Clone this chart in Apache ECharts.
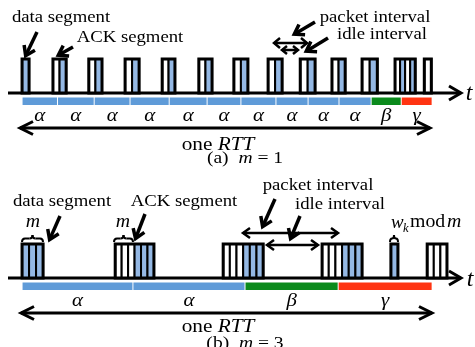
<!DOCTYPE html>
<html><head><meta charset="utf-8">
<script src="https://cdn.jsdelivr.net/npm/echarts@6/dist/echarts.min.js"></script>
<style>html,body{margin:0;padding:0;background:#fff}#c{width:475px;height:347px}</style>
</head><body><div id="c"></div>
<script>
// ---------- data (time as % of one RTT) ----------
const bandLabelsA = ['α','α','α','α','α','α','α','α','α','α','β','γ'];
const bandEdgesA  = [0.5,9.1,18.0,26.7,36.2,45.4,53.6,62.1,69.9,77.4,85.2,92.5,100];
const packetStartA = [0.5,8.0,16.7,25.5,34.5,43.4,51.9,60.2,68.0,75.7,83.0,91.0,98.1];
const packetEndA   = [2.2,11.2,19.9,28.9,37.6,46.6,55.3,63.6,71.6,78.9,86.7,95.9,99.8];
const packetCellsA = ['d','ad','ad','ad','ad','ad','ad','ad','ad','ad','ad','adad','a'];

const bandLabelsB = ['α','α','β','γ'];
const bandEdgesB  = [0.5,27.4,54.6,77.2,100];
const packetStartB = [0.5,23.1,49.3,73.3,90.0,98.8];
const packetEndB   = [5.6,32.5,59.0,83.0,91.7,103.6];
const packetCellsB = ['ddd','aaaddd','aaaddd','aaaddd','d','aaa'];

const annotationTexts = ['data segment','ACK segment','packet interval','idle interval'];
const captionTexts = [['(a)','m','1'],['(b)','m','3']];

// ---------- styles ----------
const SERIF = '"Liberation Serif","DejaVu Serif",serif';
const DATA_FILL = '#94b8e4';
const BAND_COLORS = {'α':'#5f9bd8','β':'#0b8a1c','γ':'#ff3412'};

function packetRenderer(cells){
  return function(params, api){
    const p0 = api.coord([api.value(0), 0]);
    const p1 = api.coord([api.value(1), 1]);
    const pat = cells[params.dataIndex];
    const n = pat.length, w = (p1[0]-p0[0])/n, top = p1[1], bot = p0[1];
    const ch = [];
    for (let i=0;i<n;i++) ch.push({type:'rect',shape:{x:p0[0]+i*w,y:top,width:w,height:bot-top},
      style:{fill:pat[i]==='d'?DATA_FILL:'#fff',stroke:'#000',lineWidth:2}});
    ch.push({type:'rect',shape:{x:p0[0],y:top,width:p1[0]-p0[0],height:bot-top},style:{fill:'none',stroke:'#000',lineWidth:3}});
    return {type:'group',children:ch};
  };
}
function bandRenderer(labels){
  return function(params, api){
    const a = api.coord([api.value(0), 0]);
    const b = api.coord([api.value(1), 0]);
    const lab = labels[params.dataIndex];
    return {type:'group',children:[
      {type:'rect',shape:{x:a[0]+0.5,y:a[1]+4.5,width:b[0]-a[0]-1,height:7.5},style:{fill:BAND_COLORS[lab]}},
      {type:'text',x:(a[0]+b[0])/2,y:a[1]+22.5,scaleX:1.1,style:{text:lab,font:'italic 19px '+SERIF,fill:'#000',
        align:'center',verticalAlign:'middle',textAlign:'center',textVerticalAlign:'middle'}}
    ]};
  };
}
function bandData(edges){ return edges.slice(0,-1).map((e,k)=>[e,edges[k+1]]); }
function pktData(s,e){ return s.map((v,k)=>[v,e[k]]); }

// ---------- annotation helpers (layout) ----------
function ln(x1,y1,x2,y2,lw){return {type:'line',shape:{x1,y1,x2,y2},style:{stroke:'#000',lineWidth:lw}};}
function chev(tx,ty,dx,dy,len,half,lw){
  const px=-dy,py=dx;
  return {type:'polyline',shape:{points:[[tx-dx*len+px*half,ty-dy*len+py*half],[tx,ty],[tx-dx*len-px*half,ty-dy*len-py*half]]},
    style:{stroke:'#000',lineWidth:lw,fill:null,lineJoin:'miter'}};
}
function pointer(x1,y1,x2,y2){
  const L=Math.hypot(x2-x1,y2-y1),dx=(x2-x1)/L,dy=(y2-y1)/L;
  return [ln(x1,y1,x2-dx*2,y2-dy*2,3.5),chev(x2-dx*1.5,y2-dy*1.5,dx,dy,9,6,3.5)];
}
function hArrow(x1,x2,y,lw,len,half,both){
  const r=[ln(x1,y,x2,y,lw),chev(x2,y,1,0,len,half,lw)];
  if(both) r.push(chev(x1,y,-1,0,len,half,lw));
  return r;
}
function txt(x,y,text,size,sx,italic,align){
  return {type:'text',x,y,scaleX:sx,style:{text,font:(italic?'italic ':'')+size+'px '+SERIF,fill:'#000',
    align:align||'center',verticalAlign:'middle',textAlign:align||'center',textVerticalAlign:'middle'}};
}
function rich(x,y,text,size,sx){
  const base={fontFamily:SERIF,fontSize:size,fill:'#000'};
  return {type:'text',x,y,scaleX:sx,style:{text,fill:'#000',font:size+'px '+SERIF,align:'center',verticalAlign:'middle',
    textAlign:'center',textVerticalAlign:'middle',
    rich:{n:Object.assign({},base),i:Object.assign({fontStyle:'italic'},base)}}};
}
function qc(x1,y1,cx,cy,x2,y2){return {type:'bezierCurve',shape:{x1,y1,x2,y2,cpx1:cx,cpy1:cy},style:{stroke:'#000',lineWidth:2,fill:null}};}
function brace(x1,x2,y,h){
  const m=(x1+x2)/2,hh=h/2,r=Math.min(3,(m-x1)/2);
  const out=[qc(x1,y,x1,y-hh,x1+r,y-hh),qc(m-r,y-hh,m,y-hh,m,y-h),qc(m,y-h,m,y-hh,m+r,y-hh),qc(x2-r,y-hh,x2,y-hh,x2,y)];
  if(m-r-(x1+r)>0.5){out.push(ln(x1+r,y-hh,m-r,y-hh,2));out.push(ln(m+r,y-hh,x2-r,y-hh,2));}
  return out;
}

const g = [];
// top panel
g.push(...hArrow(8,461,93,3,12,7,false));
g.push(txt(469,94,'t',24,1,true));
g.push(...hArrow(20,430,128,3,13,6.5,true));
g.push(rich(218,145,'{n|one }{i|RTT}',19,1.12));
g.push(rich(245,159,'{n|'+captionTexts[0][0]+'  }{i|'+captionTexts[0][1]+'}{n| = '+captionTexts[0][2]+'}',17,1.15));
g.push(txt(61,18,annotationTexts[0],16,1.17));
g.push(txt(130,38,annotationTexts[1],16,1.17));
g.push(txt(375,18,annotationTexts[2],16,1.17));
g.push(txt(382,35,annotationTexts[3],16,1.17));
g.push(...pointer(37,32,25,57));
g.push(...pointer(73,47,57,56));
g.push(...pointer(315,22,293,35));
g.push(...pointer(328,38,305,52));
g.push(...hArrow(274,307,43,2.5,6,5,true));
g.push(...hArrow(282,298,50,2.5,5,4,true));
// bottom panel
g.push(...hArrow(8,461,278,3,12,7,false));
g.push(txt(470,280,'t',24,1,true));
g.push(...hArrow(21,432,313,3,13,6.5,true));
g.push(rich(218,327,'{n|one }{i|RTT}',19,1.12));
g.push(rich(245,344,'{n|'+captionTexts[1][0]+'  }{i|'+captionTexts[1][1]+'}{n| = '+captionTexts[1][2]+'}',17,1.15));
g.push(txt(62,202,annotationTexts[0],16,1.17));
g.push(txt(184,202,annotationTexts[1],16,1.17));
g.push(txt(318,186,annotationTexts[2],16,1.17));
g.push(txt(340,205,annotationTexts[3],16,1.17));
g.push(txt(33,222,'m',18,1.1,true));
g.push(txt(123,222,'m',18,1.1,true));
g.push(...brace(22,43,242,7));
g.push(...brace(114,133,242,7));
g.push(...brace(390,398,242,7));
g.push(txt(391,223,'w',18,1.05,true,'left'));
g.push(txt(403,229,'k',12,1.05,true,'left'));
g.push(txt(410,222,'mod',18,1.1,false,'left'));
g.push(txt(447,222,'m',18,1.1,true,'left'));
g.push(...pointer(60,216,49,241));
g.push(...pointer(145,214,135,240));
g.push(...pointer(275,199,262,228));
g.push(...pointer(300,216,290,240));
g.push(...hArrow(243,338,233,2.5,7,5,true));
g.push(...hArrow(267,318,245,2.5,7,5,true));

const chart = echarts.init(document.getElementById('c'));
const axX = i=>({type:'value',gridIndex:i,min:0,max:110.4,show:false});
const axY = i=>({type:'value',gridIndex:i,min:0,max:1,show:false});
chart.setOption({
  animation:false,
  backgroundColor:'#fff',
  grid:[{left:20,right:0,top:59,height:34},{left:20,right:0,top:244,height:34}],
  xAxis:[axX(0),axX(1)],
  yAxis:[axY(0),axY(1)],
  series:[
    {type:'custom',xAxisIndex:0,yAxisIndex:0,clip:false,renderItem:bandRenderer(bandLabelsA),data:bandData(bandEdgesA),encode:{x:[0,1]}},
    {type:'custom',xAxisIndex:0,yAxisIndex:0,clip:false,renderItem:packetRenderer(packetCellsA),data:pktData(packetStartA,packetEndA),encode:{x:[0,1]}},
    {type:'custom',xAxisIndex:1,yAxisIndex:1,clip:false,renderItem:bandRenderer(bandLabelsB),data:bandData(bandEdgesB),encode:{x:[0,1]}},
    {type:'custom',xAxisIndex:1,yAxisIndex:1,clip:false,renderItem:packetRenderer(packetCellsB),data:pktData(packetStartB,packetEndB),encode:{x:[0,1]}}
  ],
  graphic:{elements:g}
});
</script></body></html>
